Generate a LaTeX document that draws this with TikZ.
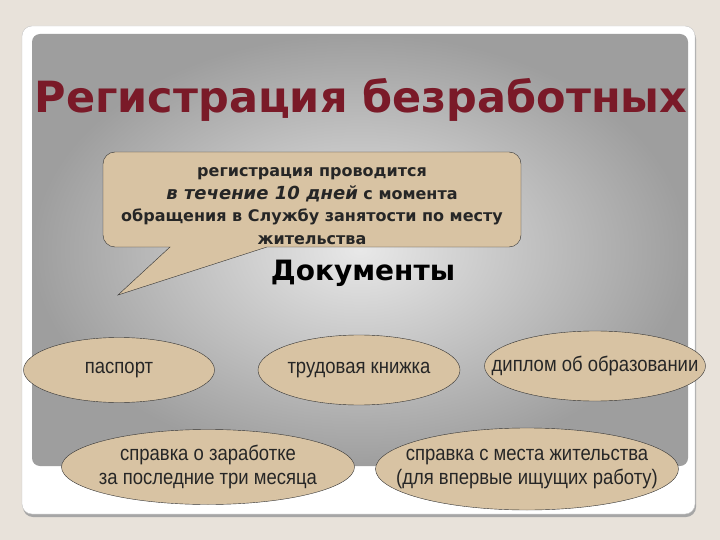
\documentclass[tikz,border=0pt]{standalone}
\usepackage{fontspec}
\setmainfont{DejaVu Sans}
\newfontfamily\narrowfont[FakeStretch=0.88]{Liberation Sans}
\usetikzlibrary{shapes.geometric, positioning}
\definecolor{pagebeige}{RGB}{232,226,218}
\definecolor{titlered}{RGB}{122,26,40}
\definecolor{doctan}{RGB}{216,195,163}

\begin{document}
\begin{tikzpicture}[
    x=1pt, y=-1pt,
    doc/.style={ellipse, draw=black!80, fill=doctan, inner sep=0pt},
    doctext/.style={font=\narrowfont\fontsize{21}{24}\selectfont, text=black!85, align=center},
    bubble/.style={draw=black!80, fill=doctan},
    heading/.style={font=\bfseries\fontsize{43}{46}\selectfont}
]

% Page and card
\useasboundingbox (0,0) rectangle (720,540);
\fill[pagebeige] (0,0) rectangle (720,540);
\fill[black!35, rounded corners=10pt] (23,29) rectangle (696,517);
\draw[black!22, fill=white, rounded corners=10pt] (22,26) rectangle (695,514);
\shade[rounded corners=8pt, inner color=black!9, outer color=black!38] (32,34) rectangle (688,466);

% Title
\node[heading, text=titlered, anchor=base] (title) at (361,113) {Регистрация безработных};

% Speech bubble
\draw[bubble] (118,295) -- (267,247) [rounded corners=12pt] -- (521,247) -- (521,152)
  -- (103,152) -- (103,247) [sharp corners] -- (170,247) -- cycle;
\node[font=\bfseries\fontsize{16}{22.5}\selectfont, text=black!85, align=center] (note) at (312,206)
  {регистрация проводится\\
   {\fontsize{18}{22.5}\selectfont\itshape в течение 10 дней} с момента\\
   обращения в Службу занятости по месту\\
   жительства};

\node[font=\bfseries\fontsize{28}{32}\selectfont, anchor=base] (docs) at (363,280) {Документы};

% Documents
\node[doc, minimum width=191pt, minimum height=65pt, label={[doctext]center:паспорт}] (passport) at (119,370) {};
\node[doc, minimum width=202pt, minimum height=70pt, label={[doctext]center:трудовая книжка}] (workbook) at (359,370) {};
\node[doc, minimum width=221pt, minimum height=70pt, label={[doctext]center:диплом об образовании}] (diploma) at (595,366) {};
\node[doc, minimum width=293pt, minimum height=75pt, label={[doctext]center:справка о заработке\\за последние три месяца}] (salary) at (208,467) {};
\node[doc, minimum width=303pt, minimum height=82pt, label={[doctext]center:справка с места жительства\\(для впервые ищущих работу)}] (residence) at (527,469) {};

\end{tikzpicture}
\end{document}
